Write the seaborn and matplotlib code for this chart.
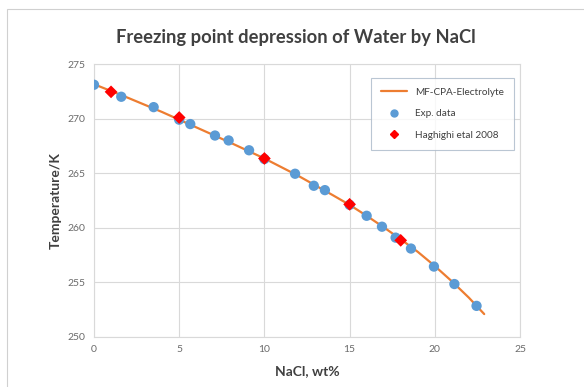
import matplotlib
matplotlib.use("Agg")
import matplotlib.pyplot as plt
import seaborn as sns
import pandas as pd
from matplotlib.lines import Line2D
from matplotlib.patches import Rectangle

# Model curve (MF-CPA-Electrolyte)
model_x = [0, 2, 4, 6, 8, 10, 12, 14, 15, 16, 17, 18, 19, 20, 21, 22, 22.9]
model_T = [273.15, 271.9, 270.6, 269.2, 267.8, 266.35, 264.75, 263.0, 262.1, 261.1, 260.05, 258.95, 257.8, 256.5, 255.1, 253.6, 252.1]

# Experimental data
exp_x = [0, 1.6, 3.5, 5.0, 5.65, 7.1, 7.9, 9.1, 10.0, 11.8, 12.9, 13.55, 15.0, 16.0, 16.9, 17.7, 18.6, 19.95, 21.15, 22.45]
exp_T = [273.1, 272.0, 271.05, 269.9, 269.5, 268.45, 268.0, 267.1, 266.3, 264.95, 263.85, 263.45, 262.1, 261.1, 260.1, 259.1, 258.1, 256.45, 254.85, 252.85]

# Haghighi et al 2008
hag_x = [1.0, 5.0, 10.0, 15.0, 18.0]
hag_T = [272.45, 270.1, 266.35, 262.15, 258.85]

sns.set_theme(style="white")
plt.rcParams["font.family"] = ["Lato", "DejaVu Sans"]

fig = plt.figure(figsize=(5.84, 3.87), dpi=100)
fig.patch.set_facecolor("white")
# outer chart border
fig.add_artist(Rectangle((7 / 584, -0.05), 1.0, 1 - 9 / 387 + 0.05, transform=fig.transFigure,
                         fill=False, edgecolor="#d0d0d0", linewidth=0.8))

ax = fig.add_axes([94 / 584, 1 - 337 / 387, (520 - 94) / 584, (337 - 64) / 387])

line_df = pd.DataFrame({"x": model_x, "T": model_T})
exp_df = pd.DataFrame({"x": exp_x, "T": exp_T})
hag_df = pd.DataFrame({"x": hag_x, "T": hag_T})

sns.lineplot(data=line_df, x="x", y="T", ax=ax, color="#ed7d31", linewidth=1.6, zorder=2)
sns.scatterplot(data=exp_df, x="x", y="T", ax=ax, color="#5b9bd5", s=55, edgecolor="none",
                marker="o", zorder=3)
sns.scatterplot(data=hag_df, x="x", y="T", ax=ax, color="#ff0000", s=42, edgecolor="none",
                marker="D", zorder=4)

ax.set_xlim(0, 25)
ax.set_ylim(250, 275)
ax.set_xticks([0, 5, 10, 15, 20, 25])
ax.set_yticks([250, 255, 260, 265, 270, 275])
ax.grid(True, color="#d9d9d9", linewidth=0.8)
for s in ax.spines.values():
    s.set_color("#d9d9d9")
    s.set_linewidth(0.8)
ax.tick_params(axis="both", length=0, labelsize=7.5, labelcolor="#6b6b6b", pad=6)

ax.set_xlabel("NaCl, wt%", fontsize=10, fontweight="bold", color="#404040", labelpad=8)
ax.set_ylabel("Temperature/K", fontsize=10, fontweight="bold", color="#404040", labelpad=4)
fig.text(296 / 584, 1 - 38 / 387, "Freezing point depression of Water by NaCl", ha="center", va="center",
         fontsize=13.2, fontweight="bold", color="#404040")

handles = [
    Line2D([0], [0], color="#ed7d31", linewidth=1.6),
    Line2D([0], [0], color="#5b9bd5", marker="o", linestyle="none", markersize=5),
    Line2D([0], [0], color="#ff0000", marker="D", linestyle="none", markersize=4.5),
]
labels = ["MF-CPA-Electrolyte", "Exp. data", "Haghighi etal 2008"]
leg = ax.legend(handles, labels, loc="upper right", bbox_to_anchor=(1.0 - 1 / 426, 1 - 9 / 273),
                fontsize=7.2, frameon=True, fancybox=False, edgecolor="#a9b8c8", labelspacing=1.25,
                handlelength=2.6, borderpad=1.0)
leg.get_frame().set_linewidth(0.8)
for t in leg.get_texts():
    t.set_color("#404040")

fig.savefig("out.png", dpi=100, facecolor="white")
